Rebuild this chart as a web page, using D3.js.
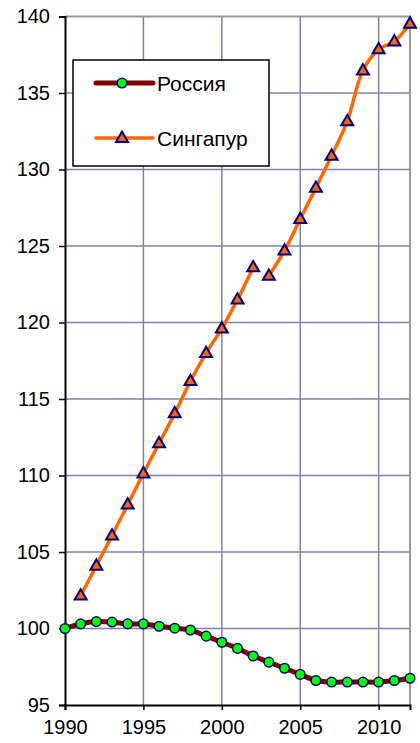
<html>
<head>
<meta charset="utf-8">
<title>Россия / Сингапур</title>
<style>
body { margin: 0; background: #fff; }
svg text { font-family: "Liberation Sans", Arial, sans-serif; fill: #000; }
</style>
</head>
<body>
<script src="https://cdn.jsdelivr.net/npm/d3@7"></script>
<script>
var width = 420, height = 743;
var pLeft = 65, pRight = 410, pTop = 16.5, pBottom = 705;

// данные
var years = d3.range(1990, 2013);
var russia = [100.0, 100.3, 100.45, 100.42, 100.3, 100.3, 100.15, 100.02, 99.9, 99.5, 99.1, 98.7, 98.2, 97.8, 97.4, 97.0, 96.6, 96.5, 96.5, 96.5, 96.5, 96.6, 96.75];
var sgYears = d3.range(1991, 2013);
var singapore = [102.15, 104.1, 106.07, 108.1, 110.13, 112.1, 114.06, 116.17, 118.0, 119.6, 121.5, 123.6, 123.05, 124.7, 126.76, 128.8, 130.9, 133.15, 136.47, 137.85, 138.37, 139.53];
var sgPieces = [[1991, 2002], [2003, 2012]]; // линия прерывается между 2002 и 2003
var xTicks = [1990, 1995, 2000, 2005, 2010];
var yTicks = [95, 100, 105, 110, 115, 120, 125, 130, 135, 140];
var names = ["Россия", "Сингапур"];

var svg = d3.select("body").append("svg")
	.attr("width", width)
	.attr("height", height);

var x = d3.scaleLinear().domain([1990, 2012]).range([pLeft, pRight]);
var y = d3.scaleLinear().domain([95, 140]).range([pBottom, pTop]);

// сетка
svg.append("g").selectAll("line")
	.data(xTicks.slice(1))
	.enter().append("line")
	.attr("x1", d => x(d)).attr("x2", d => x(d))
	.attr("y1", pTop).attr("y2", pBottom)
	.attr("stroke", "#8080ac").attr("stroke-width", 1.5);
svg.append("g").selectAll("line")
	.data(yTicks.slice(1, -1))
	.enter().append("line")
	.attr("x1", pLeft).attr("x2", pRight)
	.attr("y1", d => y(d)).attr("y2", d => y(d))
	.attr("stroke", "#8080ac").attr("stroke-width", 1.5);
// рамка сверху и справа
svg.append("path")
	.attr("d", "M" + pLeft + "," + pTop + "H" + pRight + "V" + pBottom)
	.attr("fill", "none").attr("stroke", "#9a9a9a").attr("stroke-width", 2);

// оси
var yAxis = svg.append("g")
	.attr("transform", "translate(" + pLeft + ",0)")
	.call(d3.axisLeft(y).tickValues(yTicks).tickSize(6).tickPadding(9));
var xAxis = svg.append("g")
	.attr("transform", "translate(0," + pBottom + ")")
	.call(d3.axisBottom(x).tickValues(xTicks).tickFormat(d3.format("d")).tickSize(5).tickPadding(9));
[yAxis, xAxis].forEach(function(a){
	a.select(".domain").attr("stroke", "#000").attr("stroke-width", 2);
	a.selectAll(".tick line").attr("stroke", "#000").attr("stroke-width", 1.5);
	a.selectAll("text").style("font-size", "20px").attr("fill", "#000");
});
xAxis.selectAll("text").attr("dy", "0.75em");

var line = d3.line()
	.x(d => x(d[0]))
	.y(d => y(d[1]))
	.curve(d3.curveCatmullRom);

var ruData = years.map((yr, i) => [yr, russia[i]]);
var sgData = sgYears.map((yr, i) => [yr, singapore[i]]);

// Россия
svg.append("path")
	.datum(ruData)
	.attr("d", line)
	.attr("fill", "none")
	.attr("stroke", "#800000")
	.attr("stroke-width", 5)
	.attr("stroke-linejoin", "round");
svg.append("g").selectAll("circle")
	.data(ruData)
	.enter().append("circle")
	.attr("cx", d => x(d[0]))
	.attr("cy", d => y(d[1]))
	.attr("r", 4.8)
	.attr("fill", "#00ff00")
	.attr("stroke", "#000080")
	.attr("stroke-width", 1.5);

// Сингапур
var tri = d3.symbol().type(d3.symbolTriangle).size(62);
sgPieces.forEach(function(p){
	svg.append("path")
		.datum(sgData.filter(d => d[0] >= p[0] && d[0] <= p[1]))
		.attr("d", line)
		.attr("fill", "none")
		.attr("stroke", "#ff6600")
		.attr("stroke-width", 3.5)
		.attr("stroke-linejoin", "round");
});
svg.append("g").selectAll("path")
	.data(sgData)
	.enter().append("path")
	.attr("d", tri)
	.attr("transform", d => "translate(" + x(d[0]) + "," + (y(d[1]) + 0.5) + ")")
	.attr("fill", "#ff6600")
	.attr("stroke", "#000080")
	.attr("stroke-width", 2)
	.attr("stroke-linejoin", "miter");

// легенда
var lg = svg.append("g");
lg.append("rect")
	.attr("x", 73).attr("y", 60)
	.attr("width", 196).attr("height", 106)
	.attr("fill", "#fff").attr("stroke", "#000").attr("stroke-width", 1.5);
var rows = lg.selectAll("g.row")
	.data(names)
	.enter().append("g")
	.attr("class", "row")
	.attr("transform", (d, i) => "translate(0," + (83 + i * 55) + ")");
rows.append("line")
	.attr("x1", 96).attr("x2", 153)
	.attr("stroke", (d, i) => i ? "#ff6600" : "#800000")
	.attr("stroke-width", (d, i) => i ? 3.5 : 5)
	.attr("stroke-linecap", "round");
rows.filter((d, i) => i == 0).append("circle")
	.attr("cx", 122).attr("r", 4.8)
	.attr("fill", "#00ff00").attr("stroke", "#000080").attr("stroke-width", 1.5);
rows.filter((d, i) => i == 1).append("path")
	.attr("d", tri)
	.attr("transform", "translate(122,0.5)")
	.attr("fill", "#ff6600").attr("stroke", "#000080").attr("stroke-width", 2);
rows.append("text")
	.attr("x", 157).attr("dy", "0.36em")
	.style("font-size", "21px")
	.text(d => d);
</script>
</body>
</html>
